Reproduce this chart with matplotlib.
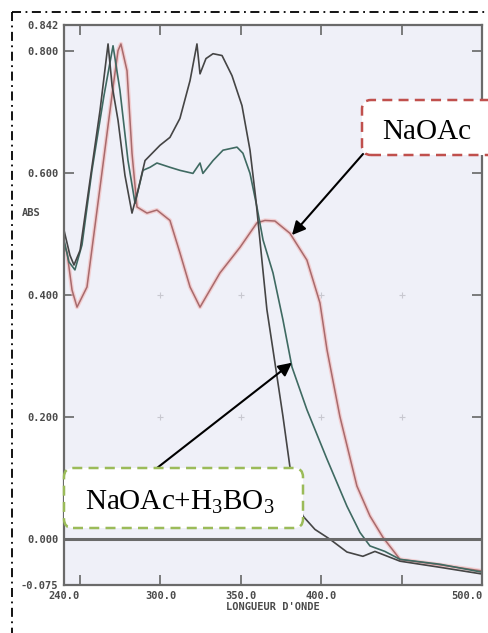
import numpy as np
import matplotlib
matplotlib.use("Agg")
import matplotlib.pyplot as plt
from matplotlib.patches import FancyBboxPatch
from matplotlib.lines import Line2D
from matplotlib.transforms import IdentityTransform

plt.rcParams['mathtext.fontset'] = 'custom'
plt.rcParams['mathtext.rm'] = 'Liberation Serif'
plt.rcParams['mathtext.it'] = 'Liberation Serif:italic'

# Spectra (wavelength nm, absorbance)
wl_dark = [240.0, 243.7, 246.2, 250.0, 256.2, 262.4, 267.4, 269.9, 273.6, 277.9, 282.3, 286.0,
           290.4, 299.7, 305.9, 312.1, 318.4, 322.7, 324.6, 328.3, 332.7, 338.3, 344.5, 350.7,
           355.7, 359.4, 363.1, 366.2, 370.0, 376.2, 380.5, 384.9, 388.6, 396.1, 405.4, 416.0,
           425.9, 433.4, 449.0, 473.8, 500.0]
abs_dark = [0.506, 0.465, 0.449, 0.473, 0.588, 0.702, 0.811, 0.743, 0.686, 0.596, 0.534, 0.571,
            0.620, 0.645, 0.658, 0.689, 0.751, 0.811, 0.762, 0.787, 0.795, 0.792, 0.759, 0.710,
            0.637, 0.555, 0.457, 0.376, 0.310, 0.201, 0.119, 0.065, 0.038, 0.016, 0.000, -0.021,
            -0.028, -0.020, -0.036, -0.046, -0.057]

wl_boric = [240.0, 243.1, 246.8, 251.2, 257.4, 264.9, 270.5, 274.8, 279.8, 284.2, 289.1, 293.5,
            297.8, 305.9, 312.1, 320.2, 324.6, 326.4, 332.7, 338.9, 347.6, 351.3, 355.7, 360.0,
            363.8, 370.0, 376.2, 381.8, 391.1, 403.6, 416.0, 424.1, 430.3, 439.6, 449.0, 473.8,
            500.0]
abs_boric = [0.490, 0.454, 0.441, 0.482, 0.604, 0.727, 0.808, 0.735, 0.620, 0.550, 0.604, 0.609,
             0.616, 0.609, 0.604, 0.599, 0.616, 0.599, 0.620, 0.637, 0.642, 0.632, 0.599, 0.544,
             0.490, 0.436, 0.359, 0.282, 0.212, 0.131, 0.054, 0.011, -0.011, -0.020, -0.033,
             -0.041, -0.054]

wl_naoac = [240.0, 241.9, 245.0, 248.1, 254.3, 262.4, 270.5, 273.6, 275.4, 279.2, 282.3, 285.4,
            291.6, 297.8, 305.9, 312.1, 318.4, 324.6, 330.8, 337.0, 349.5, 360.0, 365.0, 371.2,
            380.5, 391.1, 399.2, 403.6, 411.6, 422.2, 430.3, 438.4, 449.0, 473.8, 500.0]
abs_naoac = [0.482, 0.469, 0.408, 0.380, 0.413, 0.576, 0.740, 0.800, 0.811, 0.767, 0.632, 0.544,
             0.534, 0.539, 0.522, 0.469, 0.413, 0.380, 0.408, 0.436, 0.478, 0.518, 0.522, 0.521,
             0.501, 0.457, 0.387, 0.310, 0.201, 0.087, 0.038, 0.003, -0.033, -0.042, -0.052]

x_ticks = [240, 250, 300, 350, 400, 450, 500]
x_labels = ['240.0', '', '300.0', '350.0', '400.0', '', '500.0']
y_ticks = [-0.075, 0.0, 0.2, 0.4, 0.6, 0.8, 0.842]
y_labels = ['-0.075', '0.000', '0.200', '0.400', '0.600', '0.800', '0.842']

W, H = 488, 633
fig = plt.figure(figsize=(W / 100, H / 100), dpi=100)
fig.patch.set_facecolor('white')

ax = fig.add_axes([64 / W, 1 - 585 / H, 418 / W, 560 / H])
ax.set_facecolor('#eff0f8')

ax.plot(wl_naoac, abs_naoac, color='#f4b8b8', lw=3.0, alpha=0.6)
ax.plot(wl_naoac, abs_naoac, color='#a86a6c', lw=1.1)
ax.plot(wl_boric, abs_boric, color='#3f6a62', lw=1.2)
ax.plot(wl_dark, abs_dark, color='#454545', lw=1.2)
ax.axhline(0, color='#6a6a6a', lw=2.2)

ax.set_xlim(240, 500)
ax.set_ylim(-0.075, 0.842)

mono = dict(family='DejaVu Sans Mono', weight='bold', size=7.5, color='#4a4a4a')
ax.set_xticks(x_ticks)
ax.set_xticklabels(x_labels, fontdict=mono)
ax.xaxis.get_ticklabels()[-1].set_ha('right')
ax.set_yticks(y_ticks)
ax.set_yticklabels(y_labels, fontdict=mono)
ax.tick_params(direction='in', length=7, width=1.2, color='#666666',
               top=True, right=True, pad=4)
ax.set_xlabel("LONGUEUR D'ONDE", fontdict=mono, labelpad=1)
ax.text(-0.1, 0.534, 'ABS', transform=ax.get_yaxis_transform(), ha='left', va='center', **mono)
for s in ax.spines.values():
    s.set_color('#6a6a6a')
    s.set_linewidth(1.6)

# faint grid crosses
gx, gy = np.meshgrid([300, 350, 400, 450], [0.2, 0.4])
ax.scatter(gx.ravel(), gy.ravel(), marker='+', s=18, color='#c8c8d0', lw=0.8, zorder=1)

# outer dash-dot frame
frame = dict(color='black', lw=1.3, linestyle=(0, (5, 2.5, 1, 2.5)), transform=IdentityTransform())
fig.add_artist(Line2D([12, 12], [H - 12, 0], **frame))
fig.add_artist(Line2D([12, W], [H - 12, H - 12], **frame))

# labelled boxes
serif = dict(family='Liberation Serif', size=21, color='black')
red_box = FancyBboxPatch((362, H - 155), 150, 55, boxstyle='round,pad=0,rounding_size=9',
                         transform=IdentityTransform(), facecolor='white', edgecolor='#c0504d',
                         lw=1.8, linestyle=(0, (4, 2.5)), zorder=2)
fig.add_artist(red_box)
fig.text(382 / W, 1 - 139 / H, 'NaOAc', ha='left', va='baseline', zorder=3, **serif)

green_box = FancyBboxPatch((64, H - 528), 239, 60, boxstyle='round,pad=0,rounding_size=9',
                           transform=IdentityTransform(), facecolor='white', edgecolor='#9bbb59',
                           lw=1.8, linestyle=(0, (4, 2.5)), zorder=2)
fig.add_artist(green_box)
fig.text(85 / W, 1 - 510 / H, 'NaOAc+H$_3$BO$_3$', ha='left', va='baseline', zorder=3, **serif)

arrow = dict(arrowstyle='-|>', color='black', lw=1.5, mutation_scale=20, shrinkA=0, shrinkB=0)
ax.annotate('', xy=(381.8, 0.498), xytext=(363 / W, 1 - 154 / H),
            textcoords='figure fraction', arrowprops=arrow, annotation_clip=False)
ax.annotate('', xy=(381.8, 0.289), xytext=(157 / W, 1 - 468 / H),
            textcoords='figure fraction', arrowprops=arrow, annotation_clip=False)

fig.savefig('out.png', dpi=100)
